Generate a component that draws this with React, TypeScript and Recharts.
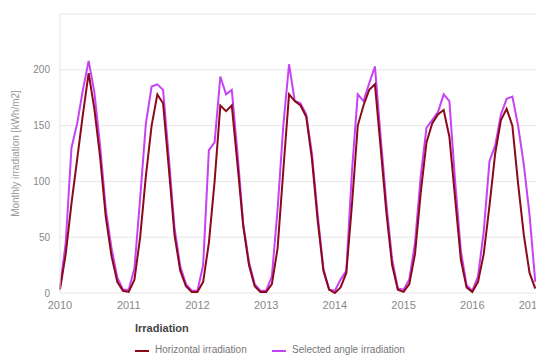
import { CartesianGrid, Line, LineChart, XAxis, YAxis } from 'recharts';

// monthly values, Jan 2010 .. Dec 2016 (kWh/m2)
const horizontalIrradiation = [
  3, 35, 80, 120, 160, 197, 165, 122, 68, 33, 10, 2, // 2010
  1, 12, 50, 105, 150, 178, 170, 112, 52, 20, 6, 1, // 2011
  1, 10, 45, 100, 168, 163, 168, 115, 60, 25, 6, 1, // 2012
  1, 8, 40, 110, 178, 172, 168, 158, 120, 65, 20, 3, // 2013
  0, 5, 18, 80, 150, 168, 182, 187, 130, 72, 25, 3, // 2014
  1, 8, 35, 90, 135, 152, 160, 164, 140, 85, 30, 5, // 2015
  1, 10, 35, 78, 125, 155, 165, 150, 98, 52, 18, 4, // 2016
];

const selectedAngleIrradiation = [
  5, 45, 130, 152, 182, 208, 180, 132, 75, 40, 14, 3, // 2010
  3, 22, 85, 152, 185, 187, 182, 122, 58, 24, 8, 2, // 2011
  2, 25, 128, 135, 194, 178, 182, 125, 62, 28, 8, 2, // 2012
  2, 15, 75, 150, 205, 172, 170, 160, 125, 70, 22, 3, // 2013
  2, 12, 20, 110, 178, 172, 188, 203, 140, 80, 30, 4, // 2014
  3, 12, 45, 105, 148, 155, 162, 178, 172, 100, 38, 7, // 2015
  2, 15, 55, 118, 132, 160, 174, 176, 150, 115, 70, 10, // 2016
];

const startYear = 2010;
const yearTicks = [2010, 2011, 2012, 2013, 2014, 2015, 2016, 2017];
const valueTicks = [0, 50, 100, 150, 200, 250];

const chartData = horizontalIrradiation.map((h, i) => ({
  t: startYear + i / 12,
  horizontal: h,
  selected: selectedAngleIrradiation[i],
}));

const H_COLOR = '#8b0a1a';
const S_COLOR = '#c742f5';

function YearTick({ x, y, payload }: any) {
  // last label gets pulled in a bit so it is not cut off completely
  const shift = payload.value === 2017 ? -10 : 0;
  return (
    <text x={x + shift} y={y} dy="0.71em" textAnchor="middle" fontSize={11} fill="#888">
      {payload.value}
    </text>
  );
}

export default function App() {
  return (
    <div
      style={{
        position: 'absolute',
        left: 0,
        top: 0,
        width: 536,
        height: 361,
        overflow: 'hidden',
        background: '#fff',
        fontFamily: '"Liberation Sans", Arial, sans-serif',
      }}
    >
      <LineChart width={560} height={361} data={chartData} margin={{ top: 14, right: 19, left: 0, bottom: 48 }}>
        <CartesianGrid vertical={false} stroke="#e6e6e6" />
        <XAxis
          type="number"
          dataKey="t"
          domain={[2010, 2017]}
          ticks={yearTicks}
          interval={0}
          height={20}
          axisLine={false}
          tickLine={false}
          tick={<YearTick />}
        />
        <YAxis
          domain={[0, 250]}
          ticks={valueTicks}
          width={60}
          axisLine={{ stroke: '#e6e6e6' }}
          tickLine={false}
          tickMargin={4}
          tick={{ fontSize: 10, fill: '#888' }}
          tickFormatter={(v: number) => (v === 250 ? '' : String(v))}
          label={{
            value: 'Monthly irradiation [kWh/m2]',
            angle: -90,
            position: 'center',
            dx: -15,
            style: { fontSize: 10, fill: '#999', textAnchor: 'middle' },
          }}
        />
        <Line type="linear" dataKey="selected" stroke={S_COLOR} strokeWidth={2} dot={false} isAnimationActive={false} />
        <Line type="linear" dataKey="horizontal" stroke={H_COLOR} strokeWidth={2} dot={false} isAnimationActive={false} />
      </LineChart>

      <div style={{ position: 'absolute', left: 135, top: 322, fontSize: 11, fontWeight: 'bold', color: '#444' }}>
        Irradiation
      </div>
      <div style={{ position: 'absolute', left: 135, top: 344, fontSize: 10, color: '#777', whiteSpace: 'nowrap' }}>
        <span style={{ position: 'absolute', left: 0, top: 6, width: 14, height: 2, background: H_COLOR }} />
        <span style={{ position: 'absolute', left: 20, top: 0 }}>Horizontal irradiation</span>
        <span style={{ position: 'absolute', left: 137, top: 6, width: 14, height: 2, background: S_COLOR }} />
        <span style={{ position: 'absolute', left: 157, top: 0 }}>Selected angle irradiation</span>
      </div>
    </div>
  );
}
